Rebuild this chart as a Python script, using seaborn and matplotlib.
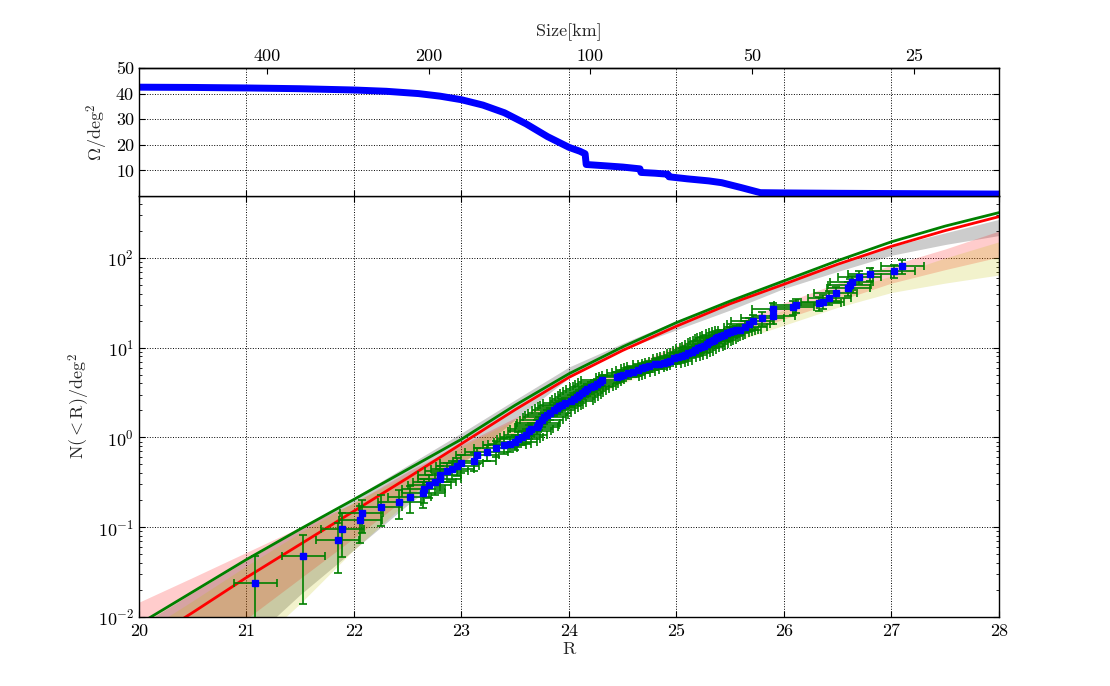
import numpy as np
import matplotlib
matplotlib.use("Agg")
import matplotlib.pyplot as plt
import seaborn as sns
from matplotlib.ticker import FixedLocator, FuncFormatter, NullLocator

# ---------------- data ----------------
# survey area vs magnitude (top panel)
omega_R = [20.0, 20.5, 21.0, 21.5, 22.0, 22.3, 22.6, 22.8, 23.0, 23.2, 23.4, 23.6,
           23.8, 24.0, 24.1, 24.15, 24.16, 24.3, 24.5, 24.66, 24.67, 24.8, 24.92,
           24.93, 25.1, 25.3, 25.42, 25.6, 25.78, 26.0, 26.5, 27.0, 27.5, 28.0]
omega = [42.5, 42.4, 42.2, 41.9, 41.4, 40.9, 40.0, 39.0, 37.6, 35.5, 32.5, 28.2,
         23.2, 19.0, 17.5, 16.5, 12.3, 11.9, 11.3, 10.6, 9.2, 8.9, 8.5,
         7.5, 6.7, 5.9, 5.2, 3.3, 1.3, 1.2, 1.05, 0.95, 0.85, 0.75]

size_ticks = [400, 200, 100, 50, 25]
R_at_100km = 24.2

# observed cumulative counts
R_obs = [21.08, 21.53, 21.85, 21.89, 22.06, 22.07, 22.25, 22.42, 22.52, 22.645,
         22.65, 22.70, 22.75, 22.80, 22.80, 22.865, 22.915, 22.96, 23.00, 23.12,
         23.145, 23.235, 23.32, 23.40, 23.45, 23.50, 23.53, 23.56, 23.60, 23.63,
         23.65, 23.70, 23.71, 23.72, 23.745, 23.77, 23.795, 23.82, 23.86, 23.885,
         23.91, 23.935, 23.96, 24.02, 24.045, 24.07, 24.095, 24.12, 24.145, 24.17,
         24.205, 24.235, 24.26, 24.285, 24.31, 24.45, 24.475, 24.505, 24.55, 24.60,
         24.64, 24.68, 24.71, 24.74, 24.80, 24.84, 24.88, 24.91, 24.94, 24.98,
         25.015, 25.05, 25.08, 25.11, 25.14, 25.17, 25.20, 25.23, 25.255, 25.28,
         25.305, 25.33, 25.35, 25.37, 25.39, 25.415, 25.44, 25.47, 25.50, 25.53,
         25.555, 25.59, 25.64, 25.67, 25.71, 25.80, 25.90, 25.90, 26.08, 26.11,
         26.33, 26.36, 26.42, 26.48, 26.60, 26.61, 26.63, 26.70, 26.80, 27.02,
         27.10]
N_obs = [0.0238, 0.048, 0.0716, 0.095, 0.119, 0.144, 0.167, 0.191, 0.216, 0.24,
         0.265, 0.295, 0.316, 0.347, 0.382, 0.42, 0.445, 0.48, 0.515, 0.55,
         0.64, 0.69, 0.76, 0.82, 0.855, 0.89, 0.96, 1.01, 1.06, 1.17,
         1.25, 1.32, 1.39, 1.45, 1.56, 1.68, 1.77, 1.86, 2.02, 2.13,
         2.24, 2.32, 2.40, 2.57, 2.71, 2.85, 2.98, 3.11, 3.28, 3.45,
         3.63, 3.78, 3.92, 4.15, 4.37, 4.68, 4.82, 4.96, 5.2, 5.41,
         5.65, 5.89, 6.08, 6.26, 6.55, 6.63, 6.72, 6.95, 7.18, 7.60,
         7.85, 8.09, 8.38, 8.67, 9.05, 9.44, 9.8, 10.1, 10.5, 11.0,
         11.5, 11.95, 12.3, 12.7, 13.0, 13.4, 13.8, 14.4, 15.1, 15.4,
         15.6, 15.8, 17.2, 18.6, 19.9, 21.3, 22.6, 26.9, 28.2, 29.9,
         31.2, 32.6, 36.1, 40.4, 45.9, 50.1, 53.7, 61.4, 65.8, 71.1,
         80.9]
N_err = [0.0238, 0.034, 0.041, 0.048, 0.053, 0.058, 0.063, 0.067, 0.071, 0.076,
         0.08, 0.085, 0.088, 0.093, 0.098, 0.10, 0.106, 0.11, 0.117, 0.123,
         0.133, 0.14, 0.152, 0.16, 0.165, 0.17, 0.18, 0.185, 0.195, 0.21,
         0.215, 0.23, 0.235, 0.24, 0.25, 0.265, 0.275, 0.285, 0.30, 0.315,
         0.33, 0.34, 0.35, 0.37, 0.385, 0.40, 0.415, 0.43, 0.48, 0.525,
         0.55, 0.56, 0.57, 0.585, 0.60, 0.64, 0.655, 0.67, 0.69, 0.71,
         0.76, 0.81, 0.82, 0.83, 0.86, 0.87, 0.88, 0.93, 0.98, 1.03,
         1.05, 1.07, 1.10, 1.14, 1.17, 1.21, 1.25, 1.30, 1.34, 1.38,
         1.42, 1.47, 1.51, 1.55, 1.58, 1.62, 1.66, 1.75, 1.83, 1.95,
         2.0, 2.1, 2.4, 2.7, 3.2, 3.8, 4.0, 4.6, 4.9, 5.3,
         5.6, 5.9, 6.5, 7.3, 8.0, 8.6, 9.2, 10.3, 10.9, 11.8,
         14.0]
R_err = 0.2

# model curves and bands (log10 N at each R)
R_model = [20.0, 20.5, 21.0, 21.5, 22.0, 22.5, 23.0, 23.5, 24.0, 24.5,
           25.0, 25.5, 26.0, 26.5, 27.0, 27.5, 28.0]
green_log = [-2.08, -1.72, -1.36, -1.02, -0.69, -0.355, -0.02, 0.36, 0.71, 1.01,
             1.28, 1.52, 1.745, 1.97, 2.18, 2.355, 2.505]
red_log = [-2.33, -1.95, -1.56, -1.19, -0.82, -0.45, -0.07, 0.31, 0.67, 0.97,
           1.24, 1.49, 1.707, 1.93, 2.13, 2.305, 2.46]
grey_hi_log = [-2.1, -1.73, -1.37, -1.02, -0.67, -0.31, 0.05, 0.42, 0.785, 1.05,
               1.30, 1.53, 1.75, 1.95, 2.13, 2.28, 2.43]
grey_lo_log = [-3.3, -2.8, -2.3, -1.75, -1.25, -0.75, -0.3, 0.2, 0.663, 0.98,
               1.20, 1.42, 1.66, 1.85, 2.03, 2.15, 2.25]
pink_hi_log = [-1.835, -1.56, -1.28, -1.0, -0.73, -0.38, -0.08, 0.22, 0.50, 0.76,
               1.02, 1.25, 1.50, 1.72, 1.92, 2.1, 2.3]
pink_lo_log = [-3.0, -2.5, -2.02, -1.57, -1.12, -0.66, -0.27, 0.05, 0.33, 0.62,
               0.86, 1.1, 1.32, 1.52, 1.72, 1.87, 2.01]
yellow_hi_log = [-2.2, -1.82, -1.43, -1.06, -0.72, -0.42, -0.1, 0.2, 0.48, 0.74,
                 0.98, 1.2, 1.42, 1.62, 1.80, 2.0, 2.18]
yellow_lo_log = [-3.6, -3.0, -2.4, -1.85, -1.25, -0.71, -0.3, 0.05, 0.35, 0.6,
                 0.85, 1.05, 1.25, 1.45, 1.615, 1.72, 1.81]

R_ticks = [20, 21, 22, 23, 24, 25, 26, 27, 28]

# ---------------- style ----------------
sns.set_style("ticks")
plt.rcParams.update({
    "font.family": ["cmr10", "DejaVu Serif"],
    "mathtext.fontset": "cm",
    "axes.formatter.use_mathtext": True,
    "axes.unicode_minus": False,
    "font.size": 13,
    "axes.labelsize": 13,
    "xtick.labelsize": 13,
    "ytick.labelsize": 13,
    "xtick.direction": "in",
    "ytick.direction": "in",
    "xtick.top": True,
    "ytick.right": True,
    "xtick.major.pad": 5,
    "axes.edgecolor": "black",
    "axes.linewidth": 1.0,
    "grid.color": "black",
    "grid.linestyle": ":",
    "grid.linewidth": 0.7,
    "grid.alpha": 1.0,
    "xtick.major.size": 4,
    "ytick.major.size": 4,
    "xtick.minor.size": 2,
    "ytick.minor.size": 2,
    "xtick.color": "black",
    "ytick.color": "black",
})

fig = plt.figure(figsize=(11.1, 6.86), dpi=100)
ax = fig.add_axes([0.1252, 0.1006, 0.7748, 0.6137])
ax_top = fig.add_axes([0.1252, 0.7143, 0.7748, 0.1866])

# ---------------- main panel ----------------
Rm = np.array(R_model)
ax.fill_between(Rm, 10 ** np.array(grey_lo_log), 10 ** np.array(grey_hi_log),
                color="k", alpha=0.2, lw=0, zorder=1)
ax.fill_between(Rm, 10 ** np.array(pink_lo_log), 10 ** np.array(pink_hi_log),
                color="r", alpha=0.2, lw=0, zorder=1)
ax.fill_between(Rm, 10 ** np.array(yellow_lo_log), 10 ** np.array(yellow_hi_log),
                color="y", alpha=0.2, lw=0, zorder=1)

sns.lineplot(x=Rm, y=10 ** np.array(red_log), ax=ax, color="red", lw=2,
             estimator=None, zorder=2)
sns.lineplot(x=Rm, y=10 ** np.array(green_log), ax=ax, color="green", lw=2,
             estimator=None, zorder=2)

ax.errorbar(R_obs, N_obs, xerr=R_err, yerr=N_err, fmt="s", color="blue",
            mec="blue", ms=5, ecolor="green", elinewidth=1.2, capsize=3,
            capthick=1.2, zorder=4)

ax.set_yscale("log")
ax.set_xlim(20, 28)
ax.set_ylim(0.01, 490)
ax.set_xticks(R_ticks)
ax.xaxis.set_major_formatter(FuncFormatter(lambda v, p: f"{v:g}"))
ax.grid(True, which="major")
ax.set_xlabel("R", labelpad=2)
ax.set_ylabel(r"$\mathrm{N}(<\mathrm{R})/\mathrm{deg}^2$")
ax.tick_params(which="both", direction="in", top=True, right=True)
for s in ax.spines.values():
    s.set_visible(True)
    s.set_color("black")

# ---------------- top panel ----------------
sns.lineplot(x=omega_R, y=omega, ax=ax_top, color="blue", lw=5, estimator=None)
ax_top.set_xlim(20, 28)
ax_top.set_ylim(0, 50)
ax_top.set_xticks(R_ticks)
ax_top.set_yticks([10, 20, 30, 40, 50])
ax_top.yaxis.set_major_formatter(FuncFormatter(lambda v, p: f"{v:g}"))
ax_top.grid(True, which="major")
ax_top.tick_params(labelbottom=False, top=False, bottom=True, right=True,
                   direction="in")
ax_top.set_xlabel("")
ax_top.set_ylabel(r"$\Omega/\mathrm{deg}^2$")
for s in ax_top.spines.values():
    s.set_visible(True)
    s.set_color("black")


def r_to_size(r):
    r = np.asarray(r, dtype=float)
    return 100.0 * 10 ** ((R_at_100km - r) / 5.0)


def size_to_r(d):
    d = np.clip(np.asarray(d, dtype=float), 1e-6, None)
    return R_at_100km - 5.0 * np.log10(d / 100.0)


sec = ax_top.secondary_xaxis("top", functions=(r_to_size, size_to_r))
sec.xaxis.set_major_locator(FixedLocator(size_ticks))
sec.xaxis.set_minor_locator(NullLocator())
sec.xaxis.set_major_formatter(FuncFormatter(lambda v, p: f"{v:g}"))
sec.tick_params(direction="in", length=4, pad=3)
sec.set_xlabel("Size[km]", labelpad=9)

fig.savefig("out.png", dpi=100)
